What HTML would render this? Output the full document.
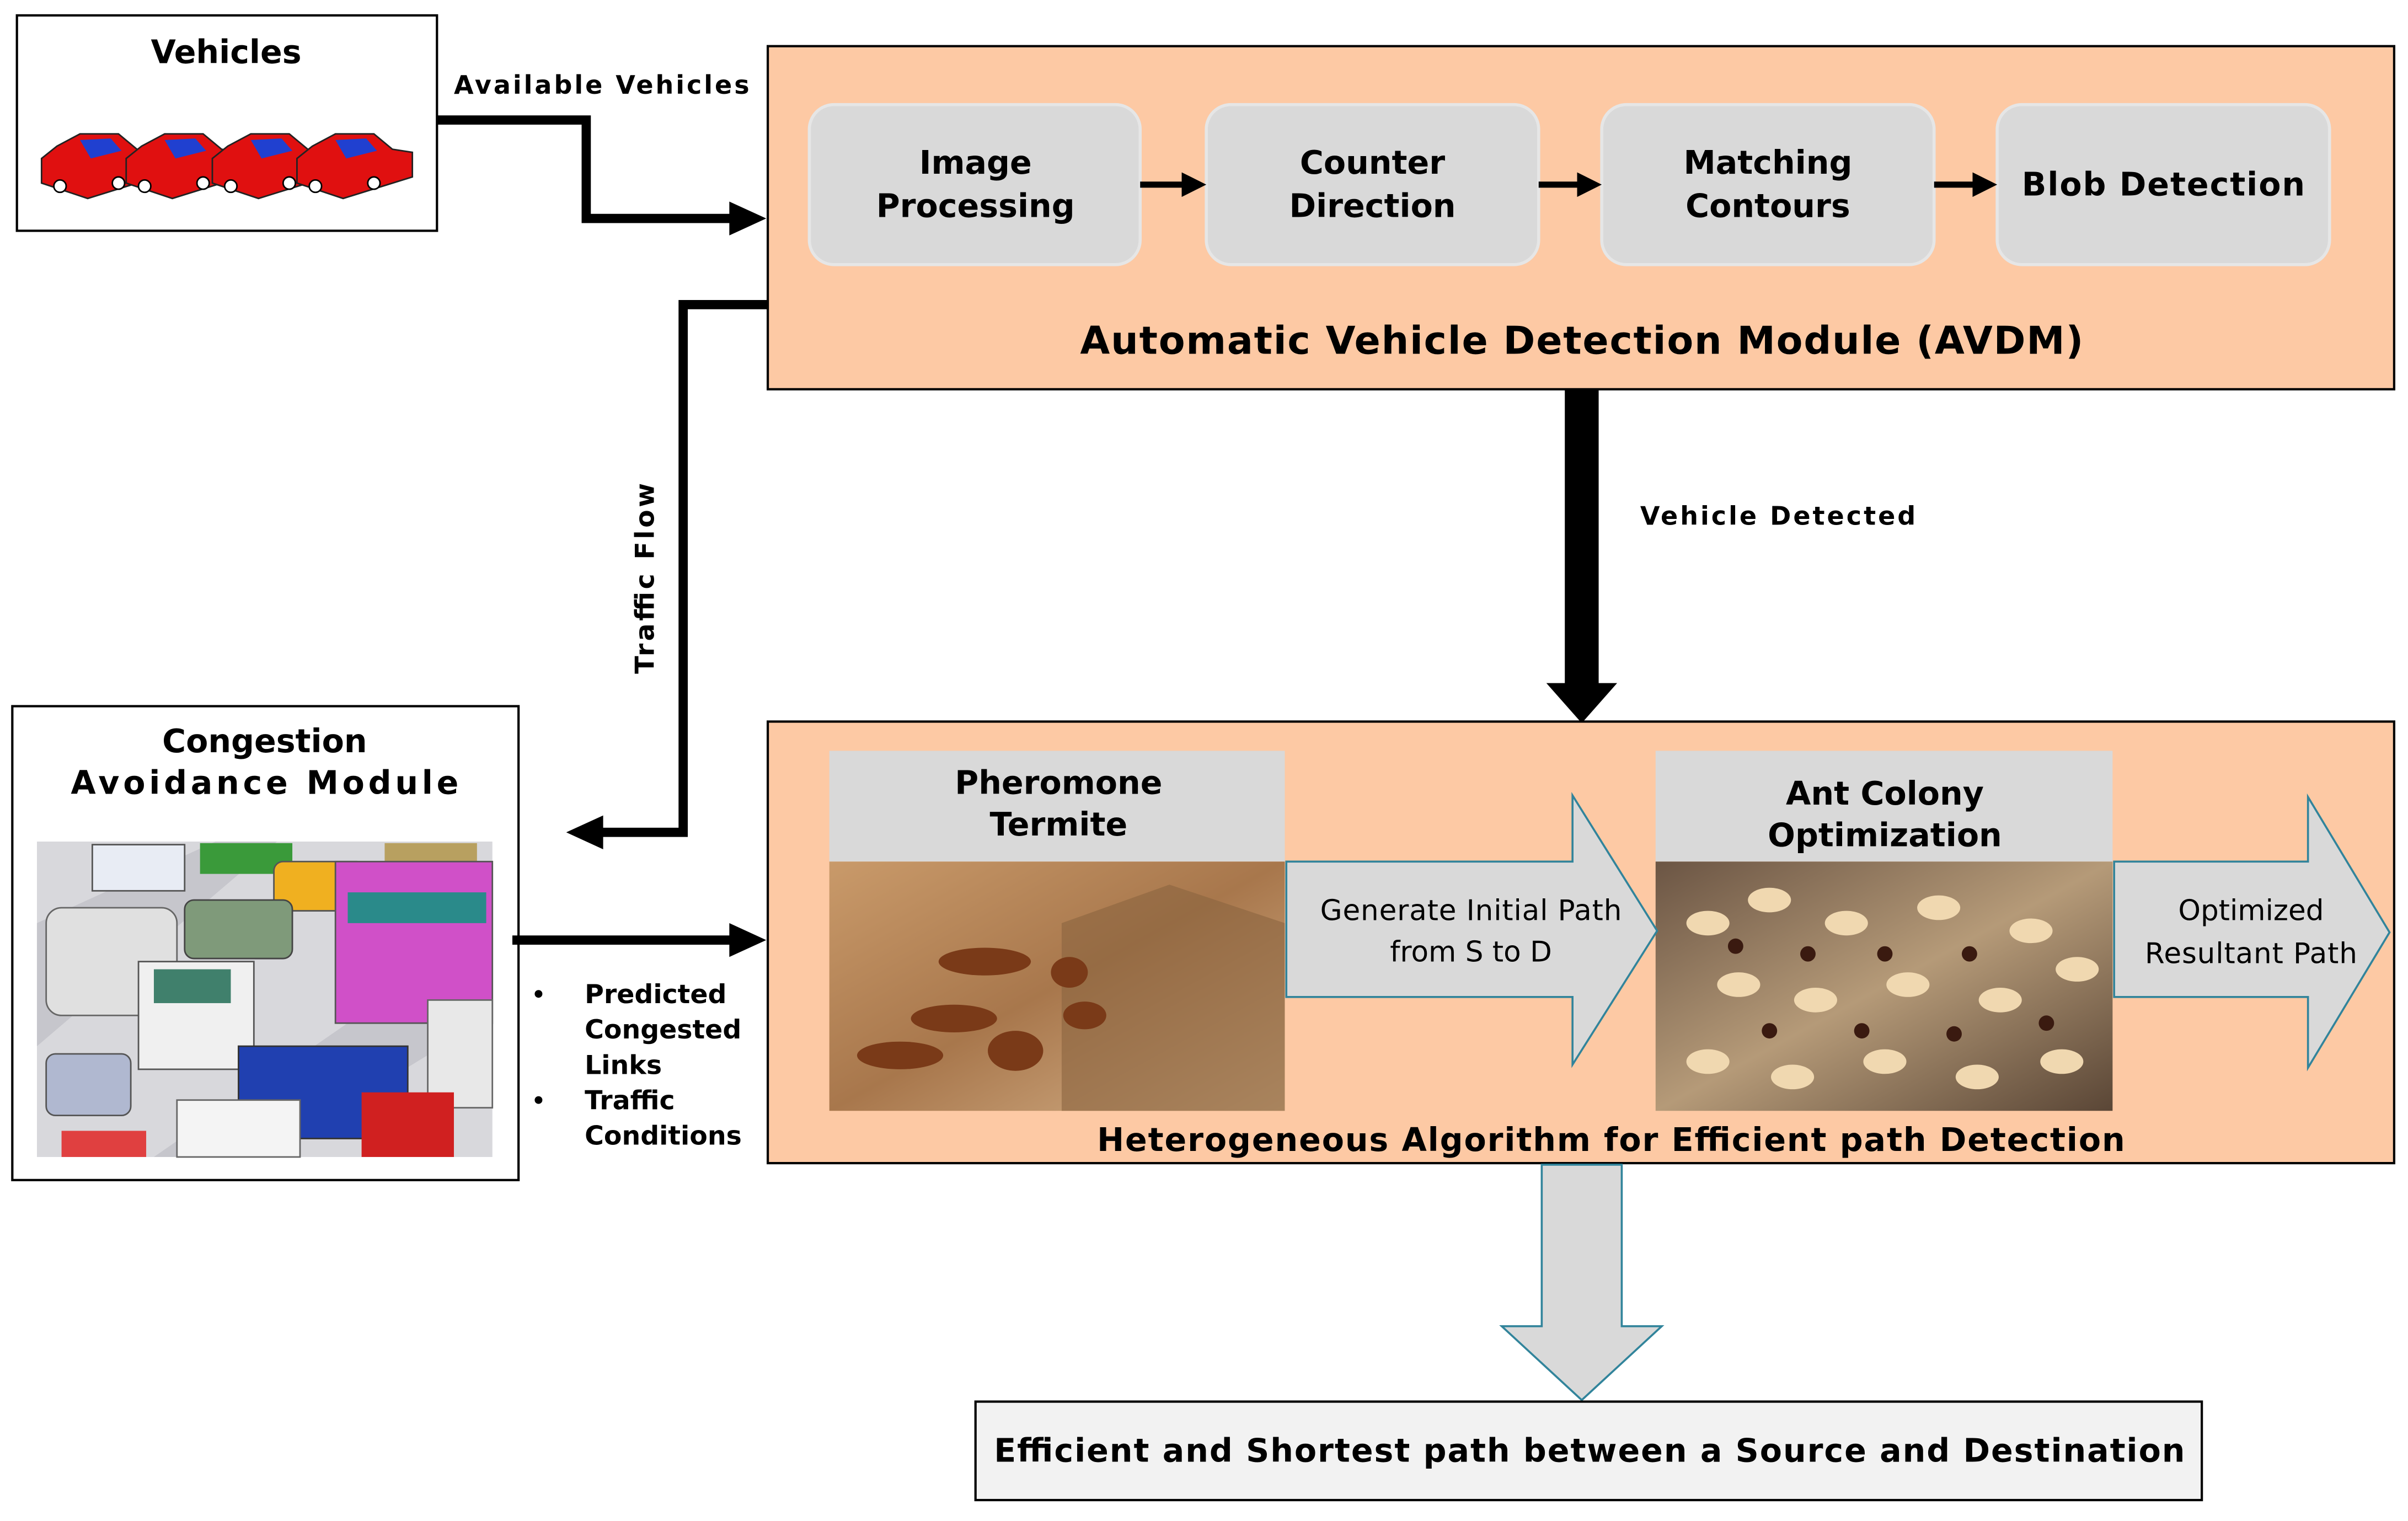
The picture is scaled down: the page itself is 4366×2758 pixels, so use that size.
<!DOCTYPE html>
<html><head><meta charset="utf-8"><style>
html,body{margin:0;padding:0;background:#fff;}
svg{display:block;}
text{font-family:"DejaVu Sans","Liberation Sans",sans-serif;}
.b{font-weight:bold;}
</style></head><body>
<svg width="4366" height="2758" viewBox="0 0 1565 988.6" preserveAspectRatio="none" xmlns="http://www.w3.org/2000/svg">
<defs>
<marker id="ah" markerWidth="4" markerHeight="4" refX="2" refY="2" orient="auto" markerUnits="strokeWidth"><path d="M0,0.4 L3,2 L0,3.6 Z" fill="#000"/></marker>
<linearGradient id="soil" x1="0" y1="0" x2="1" y2="1"><stop offset="0" stop-color="#c99a6a"/><stop offset="0.5" stop-color="#a8774c"/><stop offset="1" stop-color="#d7b48c"/></linearGradient>
<linearGradient id="ants" x1="0" y1="0" x2="1" y2="1"><stop offset="0" stop-color="#6b5544"/><stop offset="0.5" stop-color="#b59a78"/><stop offset="1" stop-color="#5a4636"/></linearGradient>
</defs>

<!-- Vehicles box -->
<rect x="11" y="10" width="273" height="140" fill="#fff" stroke="#000" stroke-width="1.5"/>
<text x="147" y="41" class="b" font-size="21" text-anchor="middle">Vehicles</text>
<g>
  <g transform="translate(27,85)"><path d="M0,18 L10,10 L25,2 L50,2 L62,12 L75,14 L75,30 L30,44 L0,34 Z" fill="#e01010" stroke="#222" stroke-width="1"/><path d="M25,6 L45,5 L52,13 L32,18 Z" fill="#2040d0"/><circle cx="12" cy="36" r="4" fill="#fff" stroke="#000"/><circle cx="50" cy="34" r="4" fill="#fff" stroke="#000"/></g>
  <g transform="translate(82,85)"><path d="M0,18 L10,10 L25,2 L50,2 L62,12 L75,14 L75,30 L30,44 L0,34 Z" fill="#e01010" stroke="#222" stroke-width="1"/><path d="M25,6 L45,5 L52,13 L32,18 Z" fill="#2040d0"/><circle cx="12" cy="36" r="4" fill="#fff" stroke="#000"/><circle cx="50" cy="34" r="4" fill="#fff" stroke="#000"/></g>
  <g transform="translate(138,85)"><path d="M0,18 L10,10 L25,2 L50,2 L62,12 L75,14 L75,30 L30,44 L0,34 Z" fill="#e01010" stroke="#222" stroke-width="1"/><path d="M25,6 L45,5 L52,13 L32,18 Z" fill="#2040d0"/><circle cx="12" cy="36" r="4" fill="#fff" stroke="#000"/><circle cx="50" cy="34" r="4" fill="#fff" stroke="#000"/></g>
  <g transform="translate(193,85)"><path d="M0,18 L10,10 L25,2 L50,2 L62,12 L75,14 L75,30 L30,44 L0,34 Z" fill="#e01010" stroke="#222" stroke-width="1"/><path d="M25,6 L45,5 L52,13 L32,18 Z" fill="#2040d0"/><circle cx="12" cy="36" r="4" fill="#fff" stroke="#000"/><circle cx="50" cy="34" r="4" fill="#fff" stroke="#000"/></g>
</g>

<!-- Available Vehicles arrow -->
<text x="295" y="61" class="b" font-size="16.5" textLength="192">Available Vehicles</text>
<polyline points="284,78 381,78 381,142 478,142" fill="none" stroke="#000" stroke-width="6"/>
<path d="M474,131 L498,142 L474,153 Z" fill="#000"/>

<!-- AVDM -->
<rect x="499" y="30" width="1057" height="223" fill="#fdc9a4" stroke="#000" stroke-width="1.5"/>
<g fill="#d9d9d9" stroke="#e6e6e6" stroke-width="2">
<rect x="526" y="68" width="215" height="104" rx="16"/>
<rect x="784" y="68" width="216" height="104" rx="16"/>
<rect x="1041" y="68" width="216" height="104" rx="16"/>
<rect x="1298" y="68" width="216" height="104" rx="16"/>
</g>
<g class="b" font-size="21" text-anchor="middle" font-weight="bold">
<text x="634" y="113">Image</text><text x="634" y="141">Processing</text>
<text x="892" y="113">Counter</text><text x="892" y="141">Direction</text>
<text x="1149" y="113">Matching</text><text x="1149" y="141">Contours</text>
<text x="1406" y="127" textLength="184">Blob Detection</text>
</g>
<g stroke="#000" stroke-width="4">
<line x1="741" y1="120" x2="770" y2="120"/><line x1="1000" y1="120" x2="1027" y2="120"/><line x1="1257" y1="120" x2="1284" y2="120"/>
</g>
<g fill="#000"><path d="M768,112 L784,120 L768,128Z"/><path d="M1025,112 L1041,120 L1025,128Z"/><path d="M1282,112 L1298,120 L1282,128Z"/></g>
<text x="1028" y="230" class="b" font-size="25" text-anchor="middle" textLength="652">Automatic Vehicle Detection Module (AVDM)</text>

<!-- Traffic flow -->
<polyline points="499,198 444,198 444,541 390,541" fill="none" stroke="#000" stroke-width="6"/>
<path d="M392,530 L368,541 L392,552 Z" fill="#000"/>
<text transform="translate(425,438) rotate(-90)" class="b" font-size="17" textLength="124">Traffic Flow</text>

<!-- Thick down arrow -->
<rect x="1017" y="253" width="22" height="193" fill="#000"/>
<path d="M1005,444 L1051,444 L1028,470 Z" fill="#000"/>
<text x="1066" y="341" class="b" font-size="16.5" textLength="179">Vehicle Detected</text>

<!-- Congestion box -->
<rect x="8" y="459" width="329" height="308" fill="#fff" stroke="#000" stroke-width="1.5"/>
<text x="172" y="489" class="b" font-size="21" text-anchor="middle">Congestion</text>
<text x="172" y="516" class="b" font-size="21" text-anchor="middle" textLength="252">Avoidance Module</text>
<g>
<rect x="24" y="547" width="296" height="205" fill="#d8d8dc"/>
<path d="M24,600 L140,547 L180,547 L24,680Z" fill="#c6c6cc"/>
<path d="M100,752 L320,600 L320,660 L170,752Z" fill="#c6c6cc"/>
<rect x="60" y="549" width="60" height="30" fill="#e8ecf4" stroke="#555"/>
<rect x="130" y="548" width="60" height="20" fill="#3a9a3a"/>
<rect x="250" y="548" width="60" height="18" fill="#b8a060"/>
<rect x="178" y="560" width="60" height="32" rx="6" fill="#f0b020" stroke="#555"/>
<rect x="120" y="585" width="70" height="38" rx="6" fill="#7f9a7a" stroke="#444"/>
<rect x="218" y="560" width="102" height="105" fill="#d050c8" stroke="#555"/>
<rect x="226" y="580" width="90" height="20" fill="#2a8a8a"/>
<rect x="30" y="590" width="85" height="70" rx="10" fill="#e0e0e0" stroke="#666"/>
<rect x="90" y="625" width="75" height="70" fill="#f0f0f0" stroke="#555"/>
<rect x="100" y="630" width="50" height="22" fill="#40806c"/>
<rect x="278" y="650" width="42" height="70" fill="#e8e8e8" stroke="#666"/>
<rect x="30" y="685" width="55" height="40" rx="6" fill="#b0b8d0" stroke="#555"/>
<rect x="155" y="680" width="110" height="60" fill="#2040b0" stroke="#333"/>
<rect x="150" y="715" width="40" height="25" fill="#d02020"/>
<rect x="235" y="710" width="60" height="42" fill="#d02020"/>
<rect x="115" y="715" width="80" height="37" fill="#f4f4f4" stroke="#666"/>
<rect x="40" y="735" width="55" height="17" fill="#e04040"/>
</g>
<line x1="333" y1="611" x2="478" y2="611" stroke="#000" stroke-width="6"/>
<path d="M474,600 L498,611 L474,622 Z" fill="#000"/>
<g class="b" font-size="17" font-weight="bold">
<circle cx="350" cy="646" r="2.5"/><circle cx="350" cy="715" r="2.5"/>
<text x="380" y="652">Predicted</text>
<text x="380" y="675">Congested</text>
<text x="380" y="698">Links</text>
<text x="380" y="721">Traffic</text>
<text x="380" y="744">Conditions</text>
</g>

<!-- Heterogeneous box -->
<rect x="499" y="469" width="1057" height="287" fill="#fdc9a4" stroke="#000" stroke-width="1.5"/>
<rect x="539" y="488" width="296" height="72" fill="#d9d9d9"/>
<text x="688" y="516" class="b" font-size="21" text-anchor="middle">Pheromone</text>
<text x="688" y="543" class="b" font-size="21" text-anchor="middle">Termite</text>
<rect x="539" y="560" width="296" height="162" fill="url(#soil)"/>
<path d="M690,600 L760,575 L835,600 L835,722 L690,722 Z" fill="#8a6440" opacity="0.6"/>
<g fill="#7a3a18">
<ellipse cx="640" cy="625" rx="30" ry="9"/><ellipse cx="620" cy="662" rx="28" ry="9"/><ellipse cx="585" cy="686" rx="28" ry="9"/><ellipse cx="660" cy="683" rx="18" ry="13"/><ellipse cx="695" cy="632" rx="12" ry="10"/><ellipse cx="705" cy="660" rx="14" ry="9"/>
</g>
<rect x="1076" y="488" width="297" height="72" fill="#d9d9d9"/>
<text x="1225" y="523" class="b" font-size="21" text-anchor="middle">Ant Colony</text>
<text x="1225" y="550" class="b" font-size="21" text-anchor="middle">Optimization</text>
<rect x="1076" y="560" width="297" height="162" fill="url(#ants)"/>
<g fill="#f0d8b0">
<ellipse cx="1110" cy="600" rx="14" ry="8"/><ellipse cx="1150" cy="585" rx="14" ry="8"/><ellipse cx="1200" cy="600" rx="14" ry="8"/><ellipse cx="1260" cy="590" rx="14" ry="8"/><ellipse cx="1320" cy="605" rx="14" ry="8"/><ellipse cx="1130" cy="640" rx="14" ry="8"/><ellipse cx="1180" cy="650" rx="14" ry="8"/><ellipse cx="1240" cy="640" rx="14" ry="8"/><ellipse cx="1300" cy="650" rx="14" ry="8"/><ellipse cx="1350" cy="630" rx="14" ry="8"/><ellipse cx="1110" cy="690" rx="14" ry="8"/><ellipse cx="1165" cy="700" rx="14" ry="8"/><ellipse cx="1225" cy="690" rx="14" ry="8"/><ellipse cx="1285" cy="700" rx="14" ry="8"/><ellipse cx="1340" cy="690" rx="14" ry="8"/>
</g>
<g fill="#3a1a10"><circle cx="1128" cy="615" r="5"/><circle cx="1175" cy="620" r="5"/><circle cx="1225" cy="620" r="5"/><circle cx="1280" cy="620" r="5"/><circle cx="1150" cy="670" r="5"/><circle cx="1210" cy="670" r="5"/><circle cx="1270" cy="672" r="5"/><circle cx="1330" cy="665" r="5"/></g>

<path d="M836,560 L1022,560 L1022,517 L1077,605 L1022,692 L1022,648 L836,648 Z" fill="#d9d9d9" stroke="#31849b" stroke-width="1.3"/>
<text x="956" y="598" font-size="18.5" text-anchor="middle" font-family="Liberation Sans" textLength="196">Generate Initial Path</text>
<text x="956" y="625" font-size="18.5" text-anchor="middle">from S to D</text>
<path d="M1374,560 L1500,560 L1500,518 L1553,606 L1500,694 L1500,648 L1374,648 Z" fill="#d9d9d9" stroke="#31849b" stroke-width="1.3"/>
<text x="1463" y="598" font-size="18.5" text-anchor="middle">Optimized</text>
<text x="1463" y="626" font-size="18.5" text-anchor="middle" textLength="138">Resultant Path</text>

<text x="1047" y="748" class="b" font-size="21" text-anchor="middle" textLength="668">Heterogeneous Algorithm for Efficient path Detection</text>

<!-- Down hollow arrow -->
<path d="M1002,757 L1054,757 L1054,862 L1080,862 L1028,910 L976,862 L1002,862 Z" fill="#d9d9d9" stroke="#31849b" stroke-width="1.3"/>

<!-- Final box -->
<rect x="634" y="911" width="797" height="64" fill="#f2f2f2" stroke="#000" stroke-width="1.5"/>
<text x="1033" y="950" class="b" font-size="21" text-anchor="middle" textLength="774">Efficient and Shortest path between a Source and Destination</text>
</svg>
</body></html>
